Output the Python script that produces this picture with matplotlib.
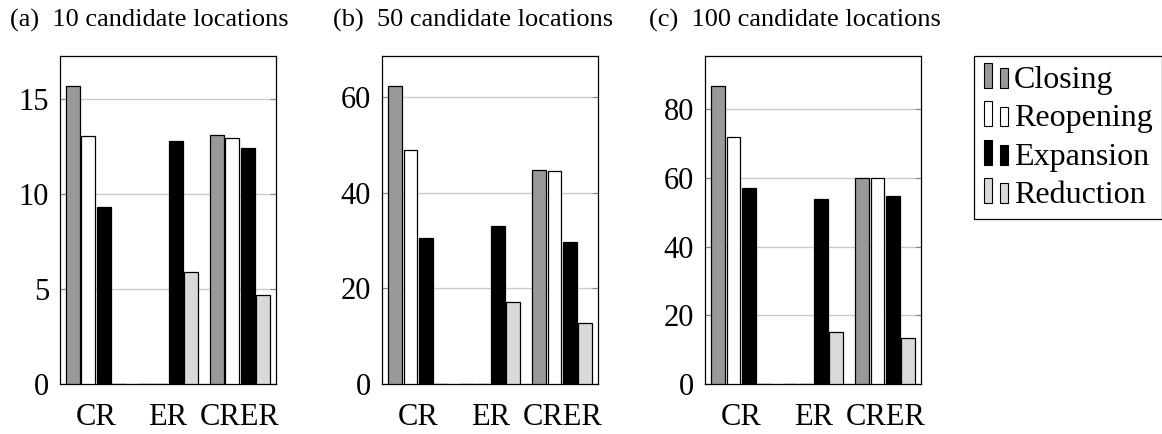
import numpy as np
import matplotlib
matplotlib.use('Agg')
import matplotlib.pyplot as plt
from matplotlib.patches import Rectangle
from matplotlib.legend_handler import HandlerBase

plt.rcParams['font.family'] = ['Liberation Serif', 'DejaVu Serif']

# --- Data ---
groups = ['CR', 'ER', 'CRER']
series = ['Closing', 'Reopening', 'Expansion', 'Reduction']
titles = ['(a)  10 candidate locations',
          '(b)  50 candidate locations',
          '(c)  100 candidate locations']

closing_10 = [15.7, 0, 13.1]
reopening_10 = [13.07, 0, 12.95]
expansion_10 = [9.3, 12.8, 12.4]
reduction_10 = [0, 5.9, 4.7]

closing_50 = [62.3, 0, 44.7]
reopening_50 = [48.8, 0, 44.5]
expansion_50 = [30.4, 33.0, 29.7]
reduction_50 = [0, 17.2, 12.7]

closing_100 = [86.8, 0, 60.1]
reopening_100 = [71.9, 0, 60.1]
expansion_100 = [57.1, 53.8, 54.7]
reduction_100 = [0, 15.1, 13.3]

yticks_10 = [0, 5, 10, 15]
yticks_50 = [0, 20, 40, 60]
yticks_100 = [0, 20, 40, 60, 80]

panels = [
    ([closing_10, reopening_10, expansion_10, reduction_10], yticks_10),
    ([closing_50, reopening_50, expansion_50, reduction_50], yticks_50),
    ([closing_100, reopening_100, expansion_100, reduction_100], yticks_100),
]

fill_colors = ['#999999', '#ffffff', '#000000', '#d9d9d9']


class TwoBarHandler(HandlerBase):
    """Legend glyph: two small bars of different height, like pgfplots ybar."""
    def create_artists(self, legend, orig_handle, xdescent, ydescent,
                       width, height, fontsize, trans):
        fc = orig_handle.get_facecolor()
        bw = width / 3
        y0 = -ydescent
        r1 = Rectangle((-xdescent, y0), bw, height * 1.12, facecolor=fc,
                       edgecolor='black', linewidth=0.8, transform=trans)
        r2 = Rectangle((-xdescent + width - bw, y0), bw, height * 0.88,
                       facecolor=fc, edgecolor='black', linewidth=0.8,
                       transform=trans)
        return [r1, r2]


W, H = 1162, 434
fig = plt.figure(figsize=(W / 100, H / 100), dpi=100)

ax_lefts = [60, 382.3, 705.3]
title_x = [10, 333, 649]
ax_w, ax_top, ax_bottom = 216, 56, 384

x = np.arange(len(groups))
pitch = 0.213
bar_w = 0.19

handles = []
for i, ((values, yticks), left) in enumerate(zip(panels, ax_lefts)):
    ax = fig.add_axes([left / W, (H - ax_bottom) / H, ax_w / W,
                       (ax_bottom - ax_top) / H])
    for k, (vals, fc) in enumerate(zip(values, fill_colors)):
        bars = ax.bar(x + (k - 1.5) * pitch, vals, width=bar_w, color=fc,
                      edgecolor='black', linewidth=0.9, zorder=3,
                      label=series[k])
        if i == 0:
            handles.append(bars.patches[0])
    ymax = max(max(v) for v in values)
    ax.set_ylim(0, ymax * 1.1)
    ax.set_xlim(-0.5, len(groups) - 0.5)
    ax.set_yticks(yticks)
    ax.set_xticks(x)
    ax.set_xticklabels(groups)
    ax.yaxis.grid(True, color='#cccccc', linewidth=1.0, zorder=0)
    ax.set_axisbelow(True)
    ax.tick_params(axis='y', which='both', direction='in', length=4,
                   color='#888888', right=True, labelsize=22, pad=8)
    ax.tick_params(axis='x', length=0, labelsize=22, pad=14)
    for sp in ax.spines.values():
        sp.set_linewidth(0.9)
        sp.set_color('black')
    fig.text(title_x[i] / W, 1 - 27 / H, titles[i], fontsize=19,
             ha='left', va='baseline')

fig.legend(handles, series, handler_map={Rectangle: TwoBarHandler()},
           loc='upper left', bbox_to_anchor=(974 / W, 1 - 56 / H),
           fontsize=23, frameon=True, fancybox=False, edgecolor='black',
           framealpha=1, handlelength=0.75, handleheight=0.7,
           handletextpad=0.2, labelspacing=0.28, borderpad=0.3,
           borderaxespad=0)
fig.legends[0].get_frame().set_linewidth(0.9)

fig.savefig('out.png', dpi=100)
